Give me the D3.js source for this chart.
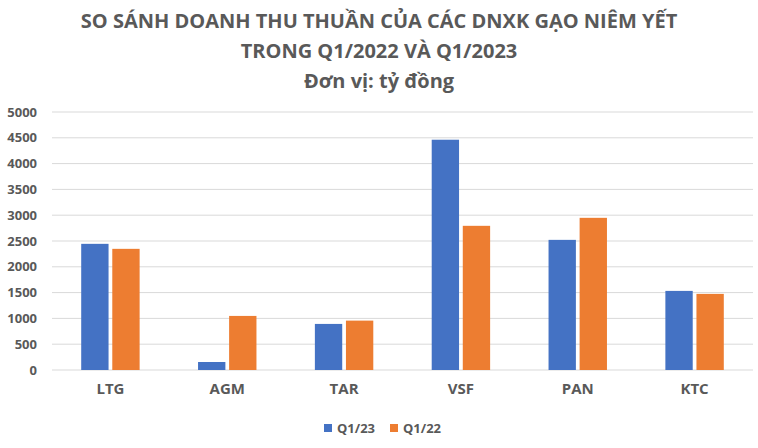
<!DOCTYPE html>
<html>
<head>
<meta charset="utf-8">
<script src="https://cdn.jsdelivr.net/npm/d3@7"></script>
<style>
  body { margin: 0; background: #fff; }
  text { font-family: "Open Sans", "DejaVu Sans", sans-serif; font-weight: bold; fill: #595959; }
</style>
</head>
<body>
<svg id="drawspace" width="758" height="448"></svg>
<script>
let companies = ["LTG", "AGM", "TAR", "VSF", "PAN", "KTC"];
let seriesNames = ["Q1/23", "Q1/22"];
let q123 = [2445, 155, 893, 4463, 2522, 1533];
let q122 = [2348, 1048, 957, 2794, 2949, 1475];
let yTicks = [0, 500, 1000, 1500, 2000, 2500, 3000, 3500, 4000, 4500, 5000];
let titleLines = ["SO SÁNH DOANH THU THUẦN CỦA CÁC DNXK GẠO NIÊM YẾT", "TRONG Q1/2022 VÀ Q1/2023", "Đơn vị: tỷ đồng"];
let colors = ["#4472c4", "#ed7d31"];

let drawSpace = d3.select("#drawspace");
let W = 758;

let plotL = 52, plotR = 753, plotT = 112, plotB = 370;

let x0 = d3.scaleBand().domain(companies).range([plotL, plotR]).paddingInner(0.5).paddingOuter(0.25);
let x1 = d3.scaleBand().domain(seriesNames).range([0, x0.bandwidth()]).paddingInner(0.12);
let y = d3.scaleLinear().domain([0, 5000]).range([plotB, plotT]);

// title
drawSpace.selectAll("text.title")
  .data(titleLines)
  .enter()
  .append("text")
  .attr("class", "title")
  .attr("x", W / 2)
  .attr("y", (d, i) => 28 + i * 30)
  .attr("text-anchor", "middle")
  .attr("font-size", 20)
  .text(d => d);

// grid
drawSpace.append("g")
  .selectAll("line")
  .data(yTicks)
  .enter()
  .append("line")
  .attr("x1", plotL)
  .attr("x2", plotR)
  .attr("y1", d => y(d))
  .attr("y2", d => y(d))
  .attr("stroke", "#d9d9d9")
  .attr("stroke-width", 1);

// y axis labels
let yAxis = d3.axisLeft(y).tickValues(yTicks).tickFormat(d3.format("d")).tickSize(0).tickPadding(0);
let yg = drawSpace.append("g")
  .attr("transform", "translate(37,0)")
  .call(yAxis);
yg.select(".domain").remove();
yg.selectAll("text")
  .attr("font-size", 13)
  .attr("font-family", null)
  .attr("fill", null);

// x axis labels
let xAxis = d3.axisBottom(x0).tickSize(0).tickPadding(0);
let xg = drawSpace.append("g")
  .attr("transform", "translate(0,383)")
  .call(xAxis);
xg.select(".domain").remove();
xg.selectAll("text")
  .attr("font-size", 15)
  .attr("font-family", null)
  .attr("fill", null);

// bars
let rows = companies.map((c, i) => ({ name: c, values: [q123[i], q122[i]] }));

drawSpace.append("g")
  .selectAll("g")
  .data(rows)
  .enter()
  .append("g")
  .attr("transform", d => "translate(" + x0(d.name) + ",0)")
  .selectAll("rect")
  .data(d => d.values.map((v, j) => ({ s: seriesNames[j], v: v, j: j })))
  .enter()
  .append("rect")
  .attr("x", d => x1(d.s))
  .attr("width", x1.bandwidth())
  .attr("y", d => y(d.v))
  .attr("height", d => y(0) - y(d.v))
  .attr("fill", d => colors[d.j]);

// legend
let legendX = [324, 390];
let lg = drawSpace.append("g")
  .selectAll("g")
  .data(seriesNames)
  .enter()
  .append("g")
  .attr("transform", (d, i) => "translate(" + legendX[i] + ",424)");
lg.append("rect")
  .attr("width", 8)
  .attr("height", 8)
  .attr("fill", (d, i) => colors[i]);
lg.append("text")
  .attr("x", 13)
  .attr("y", 8.5)
  .attr("font-size", 13)
  .text(d => d);
</script>
</body>
</html>
